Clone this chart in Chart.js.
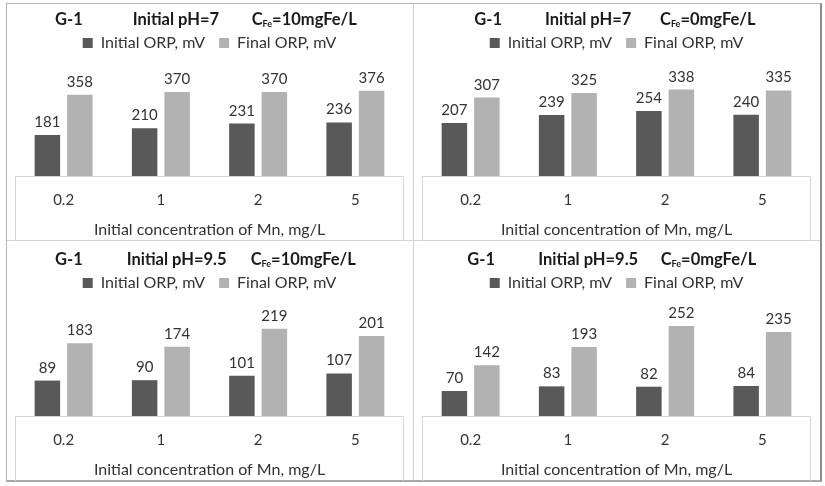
<!DOCTYPE html>
<html>
<head>
<meta charset="utf-8">
<script src="https://cdn.jsdelivr.net/npm/chart.js@4/dist/chart.umd.min.js"></script>
<style>
html,body{margin:0;padding:0;background:#fff;width:825px;height:486px;overflow:hidden;}
#frame{position:absolute;left:6px;top:3px;width:816px;height:479px;box-sizing:border-box;border-left:1px solid #b4b4b4;border-top:1px solid #b4b4b4;border-right:2px solid #8c8c8c;border-bottom:2px solid #a8a8a8;}
.vline{position:absolute;left:413px;top:4px;width:1px;height:476px;background:#d4d4d4;}
.hline{position:absolute;left:7px;top:240px;width:813px;height:1px;background:#d4d4d4;}
canvas{position:absolute;}
</style>
</head>
<body>
<div id="frame"></div>
<div class="vline"></div>
<div class="hline"></div>
<canvas id="p1" width="407" height="237" style="left:7px;top:4px"></canvas>
<canvas id="p2" width="407" height="237" style="left:414px;top:4px"></canvas>
<canvas id="p3" width="407" height="240" style="left:7px;top:241px"></canvas>
<canvas id="p4" width="407" height="240" style="left:414px;top:241px"></canvas>
<script>
// ---- data ----
const categories = ['0.2', '1', '2', '5'];
const seriesLabels = ['Initial ORP, mV', 'Final ORP, mV'];
const initialOrpPh7Fe10 = [181, 210, 231, 236];
const finalOrpPh7Fe10 = [358, 370, 370, 376];
const initialOrpPh7Fe0 = [207, 239, 254, 240];
const finalOrpPh7Fe0 = [307, 325, 338, 335];
const initialOrpPh95Fe10 = [89, 90, 101, 107];
const finalOrpPh95Fe10 = [183, 174, 219, 201];
const initialOrpPh95Fe0 = [70, 83, 82, 84];
const finalOrpPh95Fe0 = [142, 193, 252, 235];
const groupLabel = 'G-1';
const phLabels = ['Initial pH=7', 'Initial pH=7', 'Initial pH=9.5', 'Initial pH=9.5'];
const feLabels = ['=10mgFe/L', '=0mgFe/L', '=10mgFe/L', '=0mgFe/L'];
const xAxisTitle = 'Initial concentration of Mn, mg/L';

// ---- styling ----
const FONT = 'Lato, "Open Sans", sans-serif';
const darkColor = '#595959';
const lightColor = '#b2b2b2';
const textColor = '#333333';
const boxColor = '#d6d6d6';

const panels = [
  {id:'p1', initial: initialOrpPh7Fe10, final: finalOrpPh7Fe10, ph: phLabels[0], fe: feLabels[0], yMax: 507, padTop: 17, titleY: 16, titleX: [48, 125.7, 244.7]},
  {id:'p2', initial: initialOrpPh7Fe0, final: finalOrpPh7Fe0, ph: phLabels[1], fe: feLabels[1], yMax: 450, padTop: 17, titleY: 16, titleX: [60.3, 131, 246]},
  {id:'p3', initial: initialOrpPh95Fe10, final: finalOrpPh95Fe10, ph: phLabels[2], fe: feLabels[2], yMax: 289, padTop: 20, titleY: 19, titleX: [48, 119.7, 243.7]},
  {id:'p4', initial: initialOrpPh95Fe0, final: finalOrpPh95Fe0, ph: phLabels[3], fe: feLabels[3], yMax: 322, padTop: 20, titleY: 19, titleX: [53.3, 124.3, 246.7]}
];

const axisBox = {
  id: 'axisBox',
  beforeDatasetsDraw(chart) {
    const {ctx, chartArea} = chart;
    const l = Math.round(chartArea.left) + 0.5;
    const r = Math.round(chartArea.right) - 0.5;
    const b = Math.round(chartArea.bottom) + 0.5;
    const h = chart.height;
    ctx.save();
    ctx.strokeStyle = boxColor;
    ctx.lineWidth = 1;
    ctx.beginPath();
    ctx.moveTo(l, h); ctx.lineTo(l, b); ctx.lineTo(r, b); ctx.lineTo(r, h);
    ctx.stroke();
    ctx.restore();
  }
};

const valueLabels = {
  id: 'valueLabels',
  afterDatasetsDraw(chart) {
    const ctx = chart.ctx;
    ctx.save();
    ctx.font = '15px ' + FONT;
    ctx.fillStyle = textColor;
    ctx.textAlign = 'center';
    ctx.textBaseline = 'alphabetic';
    chart.data.datasets.forEach((ds, i) => {
      chart.getDatasetMeta(i).data.forEach((bar, j) => {
        ctx.fillText(String(ds.data[j]), bar.x, bar.y - 8);
      });
    });
    ctx.restore();
  }
};

const panelTitle = {
  id: 'panelTitle',
  afterDraw(chart, args, opts) {
    const ctx = chart.ctx;
    ctx.save();
    ctx.fillStyle = '#1a1a1a';
    ctx.textBaseline = 'middle';
    ctx.textAlign = 'left';
    ctx.font = 'bold 16.5px ' + FONT;
    const y = opts.y;
    ctx.fillText(opts.group, opts.x[0], y);
    ctx.fillText(opts.ph, opts.x[1], y);
    let x = opts.x[2];
    ctx.fillText('C', x, y);
    x += ctx.measureText('C').width;
    ctx.font = 'bold 9px ' + FONT;
    ctx.fillText('Fe', x, y + 4);
    x += ctx.measureText('Fe').width;
    ctx.font = 'bold 16.5px ' + FONT;
    ctx.fillText(opts.fe, x, y);
    ctx.restore();
  }
};

panels.forEach(p => {
  new Chart(document.getElementById(p.id), {
    type: 'bar',
    data: {
      labels: categories,
      datasets: [
        {label: seriesLabels[0], data: p.initial, backgroundColor: darkColor},
        {label: seriesLabels[1], data: p.final, backgroundColor: lightColor}
      ]
    },
    options: {
      responsive: false,
      devicePixelRatio: 1,
      animation: false,
      events: [],
      categoryPercentage: 0.668,
      barPercentage: 0.785,
      layout: {padding: {top: p.padTop, left: 8, right: 10, bottom: 0}},
      scales: {
        x: {
          grid: {display: false, drawTicks: false},
          border: {display: false},
          ticks: {color: textColor, font: {family: FONT, size: 15}, padding: 15},
          title: {display: true, text: xAxisTitle, color: textColor, font: {family: FONT, size: 16}, padding: {top: 0, bottom: 2}},
          afterFit(scale) { scale.height = 65; }
        },
        y: {display: false, min: 0, max: p.yMax}
      },
      plugins: {
        legend: {
          display: true,
          position: 'top',
          labels: {boxWidth: 10, boxHeight: 10, padding: 14, color: textColor, font: {family: FONT, size: 16}}
        },
        tooltip: {enabled: false},
        panelTitle: {group: groupLabel, ph: p.ph, fe: p.fe, x: p.titleX, y: p.titleY}
      }
    },
    plugins: [axisBox, valueLabels, panelTitle]
  });
});
</script>
</body>
</html>
